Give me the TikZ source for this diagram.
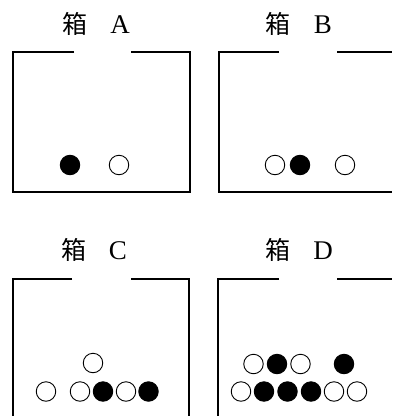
\documentclass[tikz,border=0pt]{standalone}
\usepackage{fontspec}
\newfontfamily\cjk{Noto Sans CJK JP}
\newfontfamily\latinserif{Liberation Serif}
\begin{document}
\begin{tikzpicture}[x=1pt,y=-1pt,
  boxline/.style={line width=1.5pt},
  ball/.style={circle,draw,line width=0.9pt,minimum size=19.5pt,inner sep=0pt},
  wball/.style={ball,fill=white},
  bball/.style={ball,fill=black},
  kanji/.style={anchor=base,inner sep=0pt,font=\cjk\fontsize{25}{25}\selectfont},
  letter/.style={anchor=base,inner sep=0pt,font=\latinserif\fontsize{27}{27}\selectfont}]
\useasboundingbox (0,0) rectangle (392,416);

% box A
\draw[boxline] (74,52) -- (13,52) -- (13,192) -- (190,192) -- (190,52) -- (131,52);
\node[kanji]  (la1) at (75,33) {箱};
\node[letter] (la2) at (120,33) {A};
\node[bball] (a1) at (70,165) {};
\node[wball] (a2) at (119,165) {};

% box B (right side runs off the page)
\draw[boxline] (279,52) -- (219,52) -- (219,192) -- (392,192);
\draw[boxline] (337,52) -- (392,52);
\node[kanji]  (lb1) at (278,33) {箱};
\node[letter] (lb2) at (323,33) {B};
\node[wball] (b1) at (275,165) {};
\node[bball] (b2) at (300,165) {};
\node[wball] (b3) at (345,165) {};

% box C (bottom runs off the page)
\draw[boxline] (72,279) -- (13,279) -- (13,416);
\draw[boxline] (131,279) -- (189,279) -- (189,416);
\node[kanji]  (lc1) at (74,259) {箱};
\node[letter] (lc2) at (118,259) {C};
\node[wball] (c1) at (93,363) {};
\node[wball] (c2) at (46,391.5) {};
\node[wball] (c3) at (80,391.5) {};
\node[bball] (c4) at (103,391.5) {};
\node[wball] (c5) at (126,391.5) {};
\node[bball] (c6) at (148.5,391.5) {};

% box D
\draw[boxline] (279,279) -- (218,279) -- (218,416);
\draw[boxline] (337,279) -- (392,279);
\node[kanji]  (ld1) at (278,259) {箱};
\node[letter] (ld2) at (323,259) {D};
\node[wball] (d1) at (253.5,364) {};
\node[bball] (d2) at (277,364) {};
\node[wball] (d3) at (300.5,364) {};
\node[bball] (d4) at (344,364) {};
\node[wball] (d5) at (241,391.5) {};
\node[bball] (d6) at (264,391.5) {};
\node[bball] (d7) at (287.5,391.5) {};
\node[bball] (d8) at (311,391.5) {};
\node[wball] (d9) at (334,391.5) {};
\node[wball] (d10) at (357,391.5) {};
\end{tikzpicture}
\end{document}
